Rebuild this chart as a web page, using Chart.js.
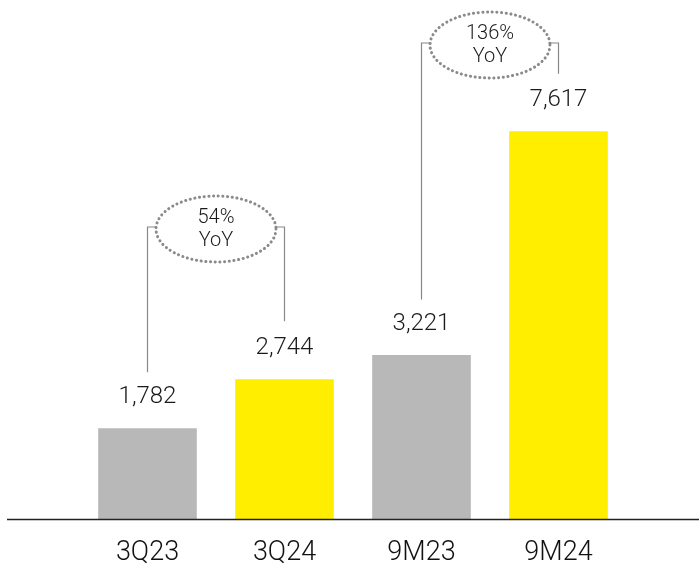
<!DOCTYPE html>
<html>
<head>
<meta charset="utf-8">
<script src="https://cdn.jsdelivr.net/npm/chart.js@4"></script>
<style>
  html, body { margin: 0; padding: 0; background: #fff; }
  #wrap { width: 699px; height: 566px; }
</style>
</head>
<body>
<div id="wrap"><canvas id="c"></canvas></div>
<script>
const categories = ['3Q23', '3Q24', '9M23', '9M24'];
const values = [1782, 2744, 3221, 7617];
const valueLabels = ['1,782', '2,744', '3,221', '7,617'];
const barColors = ['#b8b8b8', '#ffee00', '#b8b8b8', '#ffee00'];
// growth bubbles: [from bar, to bar, label]
const growth = [
  [0, 1, '54%'],
  [2, 3, '136%'],
];

const FONT = 'Roboto, "Noto Sans", sans-serif';
const bubbleCenters = [229, 45];

const overlay = {
  id: 'overlay',
  afterDatasetsDraw(chart) {
    const ctx = chart.ctx;
    const bars = chart.getDatasetMeta(0).data;
    const base = chart.scales.y.getPixelForValue(0);

    // baseline across full width
    ctx.save();
    ctx.strokeStyle = '#222';
    ctx.lineWidth = 1.3;
    ctx.beginPath();
    ctx.moveTo(7, base + 0.5);
    ctx.lineTo(chart.width, base + 0.5);
    ctx.stroke();

    // value labels
    ctx.fillStyle = '#1a1a1a';
    ctx.font = '300 24px ' + FONT;
    ctx.textAlign = 'center';
    ctx.textBaseline = 'middle';
    bars.forEach((b, i) => ctx.fillText(valueLabels[i], b.x, b.y - 31));

    // yoy bubbles
    growth.forEach(([a, b, txt], k) => {
      const ba = bars[a], bb = bars[b];
      const cx = (ba.x + bb.x) / 2;
      const cy = bubbleCenters[k];
      const rx = 60, ry = 33;
      ctx.strokeStyle = '#888';
      ctx.lineWidth = 1.2;
      ctx.beginPath();
      ctx.moveTo(ba.x, ba.y - 56);
      ctx.lineTo(ba.x, cy - 2);
      ctx.lineTo(cx - rx + 1, cy - 2);
      ctx.moveTo(cx + rx - 1, cy - 2);
      ctx.lineTo(bb.x, cy - 2);
      ctx.lineTo(bb.x, Math.max(cy + 25, bb.y - 58));
      ctx.stroke();

      ctx.strokeStyle = '#8a8a8a';
      ctx.lineWidth = 3;
      ctx.lineCap = 'round';
      ctx.setLineDash([0.1, 4.6]);
      ctx.beginPath();
      ctx.ellipse(cx, cy, rx, ry, 0, 0, Math.PI * 2);
      ctx.stroke();
      ctx.setLineDash([]);

      ctx.fillStyle = '#1a1a1a';
      ctx.font = '300 20px ' + FONT;
      ctx.fillText(txt, cx, cy - 11);
      ctx.fillText('YoY', cx, cy + 12);
    });
    ctx.restore();
  }
};

new Chart(document.getElementById('c'), {
  type: 'bar',
  data: {
    labels: categories,
    datasets: [{
      data: values,
      backgroundColor: barColors,
      borderWidth: 0,
      categoryPercentage: 1,
      barPercentage: 0.72,
    }],
  },
  options: {
    responsive: true,
    maintainAspectRatio: false,
    animation: false,
    layout: { padding: { left: 79, right: 72, top: 10, bottom: -14 } },
    scales: {
      x: {
        grid: { display: false },
        border: { display: false },
        ticks: {
          color: '#111',
          font: { family: FONT, size: 27, weight: '300', lineHeight: 1 },
          padding: 13,
        },
      },
      y: {
        display: false,
        min: 0,
        max: 10000,
      },
    },
    plugins: {
      legend: { display: false },
      tooltip: { enabled: false },
    },
  },
  plugins: [overlay],
});
</script>
</body>
</html>
